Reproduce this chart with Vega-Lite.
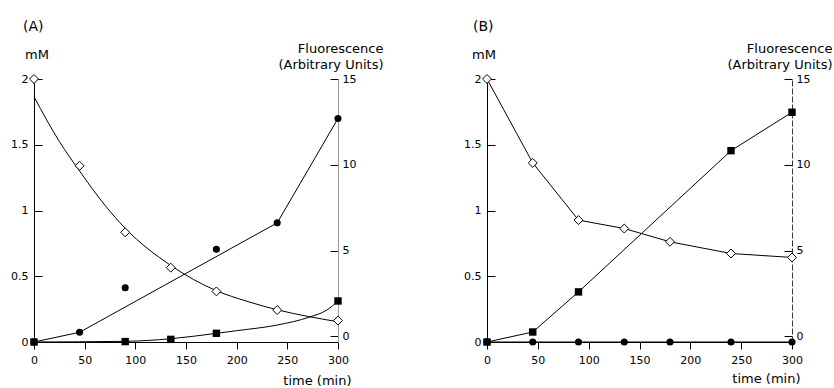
{
  "$schema": "https://vega.github.io/schema/vega-lite/v6.json",
  "padding": {"left": 10, "top": 20, "right": 0, "bottom": 0},
  "spacing": 149,
  "bounds": "flush",
  "config": {
    "font": "DejaVu Sans",
    "view": {"stroke": null},
    "axis": {"labelFont": "DejaVu Sans", "labelFontSize": 11, "titleFont": "DejaVu Sans", "titleFontSize": 13, "titleFontWeight": "normal", "labelColor": "black", "titleColor": "black", "tickColor": "black", "domainColor": "black", "grid": false, "labelFlush": false, "labelOverlap": false},
    "title": {"font": "DejaVu Sans", "fontSize": 14, "fontWeight": "normal", "color": "black"}
  },
  "hconcat": [
    {
      "width": 304, "height": 263,
      "title": {"text": "(A)", "anchor": "start", "frame": "group", "dx": -11, "baseline": "alphabetic", "offset": -3},
      "layer": [
        {
          "encoding": {
            "x": {"field": "t", "type": "quantitative", "scale": {"domain": [0, 300], "nice": false, "zero": false},
                  "axis": {"values": [0, 50, 100, 150, 200, 250, 300], "title": "time (min)", "titleAlign": "right", "titleX": 317, "titleY": 42, "titleBaseline": "alphabetic", "tickSize": 7, "labelPadding": 5}},
            "y": {"field": "v", "type": "quantitative", "scale": {"domain": [0, 2], "nice": false},
                  "axis": {"orient": "left", "values": [0, 0.5, 1, 1.5, 2], "format": "~g", "tickSize": -8, "labelPadding": 14, "title": "mM", "titleAngle": 0, "titleAlign": "center", "titleX": 2.5, "titleY": -21, "titleBaseline": "alphabetic"}}
          },
          "layer": [
            {"data": {"values": [{"t": 0, "v": 1.865}, {"t": 25, "v": 1.525}, {"t": 45, "v": 1.3}, {"t": 70, "v": 1.04}, {"t": 90, "v": 0.865}, {"t": 135, "v": 0.582}, {"t": 180, "v": 0.39}, {"t": 210, "v": 0.31}, {"t": 240, "v": 0.245}, {"t": 270, "v": 0.195}, {"t": 300, "v": 0.154}]},
             "mark": {"type": "line", "color": "black", "strokeWidth": 1, "interpolate": "monotone"}},
            {"data": {"values": [{"t": 0, "v": 0}, {"t": 45, "v": 0.074}, {"t": 240, "v": 0.906}, {"t": 300, "v": 1.7}]},
             "mark": {"type": "line", "color": "black", "strokeWidth": 1}},
            {"data": {"values": [{"t": 0, "v": 0}, {"t": 90, "v": 0.005}, {"t": 135, "v": 0.025}, {"t": 180, "v": 0.066}, {"t": 200, "v": 0.086}, {"t": 240, "v": 0.129}, {"t": 272, "v": 0.19}, {"t": 289, "v": 0.243}, {"t": 300, "v": 0.312}]},
             "mark": {"type": "line", "color": "black", "strokeWidth": 1, "interpolate": "monotone"}},
            {"data": {"values": [{"t": 0, "v": 2.0}, {"t": 45, "v": 1.34}, {"t": 90, "v": 0.834}, {"t": 135, "v": 0.565}, {"t": 180, "v": 0.385}, {"t": 240, "v": 0.243}, {"t": 300, "v": 0.163}]},
             "mark": {"type": "point", "shape": "diamond", "filled": true, "fill": "white", "stroke": "black", "strokeWidth": 1, "size": 80, "opacity": 1}},
            {"data": {"values": [{"t": 0, "v": 0}, {"t": 45, "v": 0.074}, {"t": 90, "v": 0.413}, {"t": 180, "v": 0.705}, {"t": 240, "v": 0.906}, {"t": 300, "v": 1.7}]},
             "mark": {"type": "point", "shape": "circle", "filled": true, "color": "black", "size": 50, "opacity": 1}},
            {"data": {"values": [{"t": 0, "v": 0}, {"t": 90, "v": 0.003}, {"t": 135, "v": 0.02}, {"t": 180, "v": 0.066}, {"t": 300, "v": 0.312}]},
             "mark": {"type": "point", "shape": "square", "filled": true, "color": "black", "size": 55, "opacity": 1}}
          ]
        },
        {
          "data": {"values": [{"f": 0}, {"f": 15}]},
          "mark": {"type": "point", "opacity": 0},
          "encoding": {
            "y": {"field": "f", "type": "quantitative", "scale": {"domain": [-0.33, 15], "nice": false, "zero": false},
                  "axis": {"orient": "right", "values": [0, 5, 10, 15], "tickSize": -8, "labelPadding": 12, "title": ["Fluorescence", "(Arbitrary Units)"], "titleAngle": 0, "titleAlign": "right", "titleX": 45, "titleY": -27, "titleBaseline": "alphabetic", "titleLineHeight": 16, "domainColor": "#999999"}}
          }
        }
      ],
      "resolve": {"scale": {"y": "independent"}}
    },
    {
      "width": 305, "height": 263,
      "title": {"text": "(B)", "anchor": "start", "frame": "group", "dx": -14, "baseline": "alphabetic", "offset": -3},
      "layer": [
        {
          "encoding": {
            "x": {"field": "t", "type": "quantitative", "scale": {"domain": [0, 300], "nice": false, "zero": false},
                  "axis": {"values": [0, 50, 100, 150, 200, 250, 300], "title": "time (min)", "titleAlign": "right", "titleX": 313, "titleY": 40, "titleBaseline": "alphabetic", "tickSize": 7, "labelPadding": 5}},
            "y": {"field": "v", "type": "quantitative", "scale": {"domain": [0, 2], "nice": false},
                  "axis": {"orient": "left", "values": [0, 0.5, 1, 1.5, 2], "format": "~g", "tickSize": -8, "labelPadding": 14, "title": "mM", "titleAngle": 0, "titleAlign": "center", "titleX": -3.5, "titleY": -21, "titleBaseline": "alphabetic"}}
          },
          "layer": [
            {"data": {"values": [{"t": 0, "v": 2.0}, {"t": 45, "v": 1.362}, {"t": 90, "v": 0.927}, {"t": 135, "v": 0.863}, {"t": 180, "v": 0.762}, {"t": 240, "v": 0.673}, {"t": 300, "v": 0.643}]},
             "mark": {"type": "line", "color": "black", "strokeWidth": 1}},
            {"data": {"values": [{"t": 0, "v": 0}, {"t": 45, "v": 0.076}, {"t": 90, "v": 0.381}, {"t": 240, "v": 1.455}, {"t": 300, "v": 1.747}]},
             "mark": {"type": "line", "color": "black", "strokeWidth": 1}},
            {"data": {"values": [{"t": 0, "v": 0}, {"t": 45, "v": 0}, {"t": 90, "v": 0}, {"t": 135, "v": 0}, {"t": 180, "v": 0}, {"t": 240, "v": 0}, {"t": 300, "v": 0}]},
             "mark": {"type": "line", "color": "black", "strokeWidth": 1}},
            {"data": {"values": [{"t": 0, "v": 2.0}, {"t": 45, "v": 1.362}, {"t": 90, "v": 0.927}, {"t": 135, "v": 0.863}, {"t": 180, "v": 0.762}, {"t": 240, "v": 0.673}, {"t": 300, "v": 0.643}]},
             "mark": {"type": "point", "shape": "diamond", "filled": true, "fill": "white", "stroke": "black", "strokeWidth": 1, "size": 80, "opacity": 1}},
            {"data": {"values": [{"t": 0, "v": 0}, {"t": 45, "v": 0}, {"t": 90, "v": 0}, {"t": 135, "v": 0}, {"t": 180, "v": 0}, {"t": 240, "v": 0}, {"t": 300, "v": 0}]},
             "mark": {"type": "point", "shape": "circle", "filled": true, "color": "black", "size": 50, "opacity": 1}},
            {"data": {"values": [{"t": 0, "v": 0}, {"t": 45, "v": 0.076}, {"t": 90, "v": 0.381}, {"t": 240, "v": 1.455}, {"t": 300, "v": 1.747}]},
             "mark": {"type": "point", "shape": "square", "filled": true, "color": "black", "size": 55, "opacity": 1}}
          ]
        },
        {
          "data": {"values": [{"f": 0}, {"f": 15}]},
          "mark": {"type": "point", "opacity": 0},
          "encoding": {
            "y": {"field": "f", "type": "quantitative", "scale": {"domain": [-0.33, 15], "nice": false, "zero": false},
                  "axis": {"orient": "right", "values": [0, 5, 10, 15], "tickSize": -8, "labelPadding": 12, "title": ["Fluorescence", "(Arbitrary Units)"], "titleAngle": 0, "titleAlign": "right", "titleX": 40, "titleY": -27, "titleBaseline": "alphabetic", "titleLineHeight": 16, "domainColor": "#333333", "domainDash": [6, 2]}}
          }
        }
      ],
      "resolve": {"scale": {"y": "independent"}}
    }
  ]
}
